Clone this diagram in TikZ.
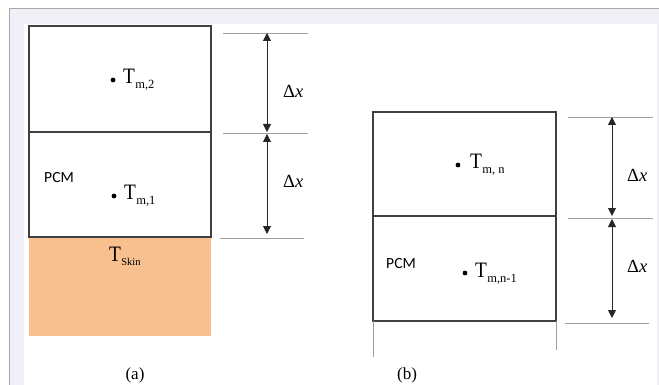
\documentclass[tikz,border=0pt]{standalone}
\usepackage{fontspec}
\setmainfont{Liberation Serif}
\newfontfamily\calib{Carlito}
\usetikzlibrary{arrows.meta}
\definecolor{lav}{HTML}{F0F0F6}
\definecolor{framegray}{HTML}{A8A8A8}
\definecolor{boxgray}{HTML}{404040}
\definecolor{dimgray}{HTML}{A0A0A0}
\definecolor{skin}{HTML}{F8BF8F}
\newcommand{\Tlab}[2][12.5]{{\fontsize{22}{22}\selectfont\scalebox{0.88}[1]{T}}\kern0.3pt\raisebox{-5pt}{\fontsize{#1}{#1}\selectfont #2}}
\begin{document}
\begin{tikzpicture}[x=1pt,y=-1pt,
  boxline/.style={draw=boxgray,line width=1.1pt},
  dimline/.style={draw=dimgray,line width=0.9pt},
  extline/.style={draw=dimgray,line width=0.9pt},
  dimarrow/.style={draw=black!85,line width=0.9pt,{Triangle[width=8pt,length=8pt]}-{Triangle[width=8pt,length=8pt]}},
  dotnode/.style={circle,fill=black,inner sep=0pt,minimum size=4.8pt},
  tlabel/.style={anchor=base west,inner sep=0pt},
  pcm/.style={inner sep=0pt,font=\calib\fontsize{15.5}{16}\selectfont},
  dxlabel/.style={anchor=base west,inner sep=0pt,font=\fontsize{18.5}{18}\selectfont},
  caption/.style={inner sep=0pt,font=\fontsize{17}{17}\selectfont}]
\useasboundingbox (0,0) rectangle (659,385);
% screenshot frame
\fill[white] (0,0) rectangle (659,385);
\fill[lav] (9,9) rectangle (659,385);
\fill[white] (24,24) rectangle (657,385);
\draw[framegray,line width=1pt] (9,9) -- (659,9);
\draw[framegray,line width=1pt] (9,9) -- (9,385);

% ---------- (a) ----------
\fill[skin] (29,237) rectangle (211,336);
\draw[boxline] (29,26) rectangle (211,237);
\draw[boxline] (29,132) -- (211,132);
\node[dotnode] (a2) at (113,80) {};
\node[tlabel] (a2t) at (123,84) {\Tlab{m,2}};
\node[pcm] (apcm) at (59,178) {PCM};
\node[dotnode] (a1) at (114,196) {};
\node[tlabel] (a1t) at (124,200) {\Tlab{m,1}};
\node[tlabel] (askin) at (109,261) {\Tlab[10.5]{Skin}};
% dimension lines (a)
\coordinate (al1a) at (223,33); \coordinate (al1b) at (308,33);
\coordinate (al2a) at (223,133); \coordinate (al2b) at (308,133);
\coordinate (al3a) at (220,238); \coordinate (al3b) at (304,238);
\draw[dimline] (al1a) -- (al1b);
\draw[dimline] (al2a) -- (al2b);
\draw[dimline] (al3a) -- (al3b);
\coordinate (aa1) at (267,33); \coordinate (aa2) at (267,132);
\coordinate (aa3) at (267,134); \coordinate (aa4) at (267,234);
\draw[dimarrow] (aa1) -- (aa2);
\draw[dimarrow] (aa3) -- (aa4);
\node[dxlabel] (adx1) at (283,98) {Δ\textit{x}};
\node[dxlabel] (adx2) at (283,187) {Δ\textit{x}};
\node[caption] (capa) at (135,375) {(a)};

% ---------- (b) ----------
\draw[boxline] (373,112) rectangle (556,321);
\draw[boxline] (373,216) -- (556,216);
\coordinate (bl) at (373,321); \coordinate (blb) at (373,357);
\coordinate (br) at (556,321); \coordinate (brb) at (556,350);
\draw[extline] (bl) -- (blb);
\draw[extline] (br) -- (brb);
\node[dotnode] (bn) at (458,165) {};
\node[tlabel] (bnt) at (470,169) {\Tlab{m, n}};
\node[pcm] (bpcm) at (401,264) {PCM};
\node[dotnode] (bn1) at (465,273) {};
\node[tlabel] (bn1t) at (475,277) {\Tlab{m,n-1}};
% dimension lines (b)
\coordinate (bl1a) at (568,117); \coordinate (bl1b) at (653,117);
\coordinate (bl2a) at (568,218); \coordinate (bl2b) at (653,218);
\coordinate (bl3a) at (565,323); \coordinate (bl3b) at (649,323);
\draw[dimline] (bl1a) -- (bl1b);
\draw[dimline] (bl2a) -- (bl2b);
\draw[dimline] (bl3a) -- (bl3b);
\coordinate (ba1) at (612,117); \coordinate (ba2) at (612,216);
\coordinate (ba3) at (612,219); \coordinate (ba4) at (612,318);
\draw[dimarrow] (ba1) -- (ba2);
\draw[dimarrow] (ba3) -- (ba4);
\node[dxlabel] (bdx1) at (627,182) {Δ\textit{x}};
\node[dxlabel] (bdx2) at (627,272) {Δ\textit{x}};
\node[caption] (capb) at (407,375) {(b)};
\end{tikzpicture}
\end{document}
